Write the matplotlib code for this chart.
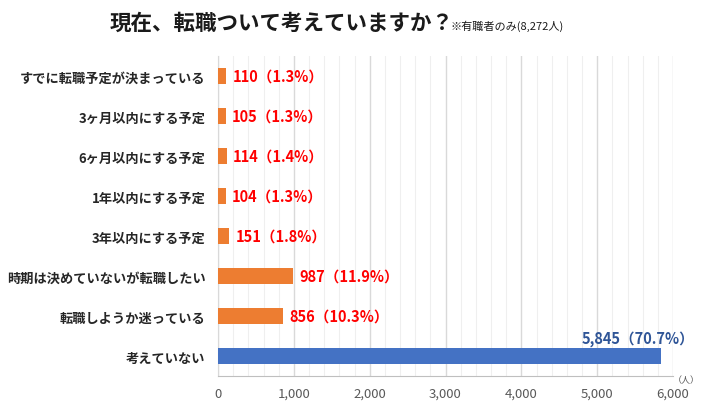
import matplotlib
matplotlib.use("Agg")
import matplotlib.pyplot as plt
from matplotlib.ticker import MultipleLocator, FuncFormatter

plt.rcParams['font.family'] = ['Noto Sans CJK JP', 'DejaVu Sans']

categories = ["すでに転職予定が決まっている", "3ヶ月以内にする予定", "6ヶ月以内にする予定",
              "1年以内にする予定", "3年以内にする予定", "時期は決めていないが転職したい",
              "転職しようか迷っている", "考えていない"]
values = [110, 105, 114, 104, 151, 987, 856, 5845]
percents = ["1.3%", "1.3%", "1.4%", "1.3%", "1.8%", "11.9%", "10.3%", "70.7%"]
colors = ["#ED7D31"] * 7 + ["#4472C4"]

fig = plt.figure(figsize=(7.04, 4.10), dpi=100)
ax = fig.add_axes([218/704, 1-377/410, (673-218)/704, (377-57)/410])

ypos = list(range(len(categories)))
ax.barh(ypos, values, height=0.4, color=colors, zorder=3)
ax.set_ylim(len(categories)-0.5, -0.5)
ax.set_xlim(0, 6000)
ax.set_yticks(ypos)
ax.set_yticklabels(categories, fontsize=9.5, fontweight='bold', color='#262626')
ax.tick_params(axis='y', length=0, pad=9)
ax.xaxis.set_major_locator(MultipleLocator(1000))
ax.xaxis.set_minor_locator(MultipleLocator(200))
ax.xaxis.set_major_formatter(FuncFormatter(lambda v, p: f"{int(v):,}"))
ax.tick_params(axis='x', which='both', length=0, labelsize=9.5, labelcolor='#595959', pad=8)
ax.grid(axis='x', which='major', color='#D9D9D9', linewidth=1.0, zorder=0)
ax.grid(axis='x', which='minor', color='#EFEFEF', linewidth=0.8, zorder=0)
for s in ['top', 'right']:
    ax.spines[s].set_visible(False)
ax.spines['left'].set_color('#D9D9D9')
ax.spines['bottom'].set_color('#BFBFBF')

for i, (v, p) in enumerate(zip(values, percents)):
    if i == len(values) - 1:
        ax.text(v + 440, i - 0.45, f"{v:,}（{p}）", ha='right', va='center',
                fontsize=10.5, fontweight='bold', color='#2F5597')
    else:
        ax.text(v + 80, i, f"{v:,}（{p}）", ha='left', va='center',
                fontsize=10.5, fontweight='bold', color='#FF0000')

fig.text(110/704, 1-23/410, "現在、転職ついて考えていますか？", fontsize=15.5, fontweight='bold',
         ha='left', va='center', color='#1A1A1A')
fig.text(450/704, 1-26/410, "※有職者のみ(8,272人)", fontsize=8, ha='left', va='center', color='#1A1A1A')
fig.text(686/704, 1-381/410, "（人）", fontsize=6.5, ha='center', va='center', color='#595959')

fig.savefig("out.png", dpi=100, facecolor='white')
